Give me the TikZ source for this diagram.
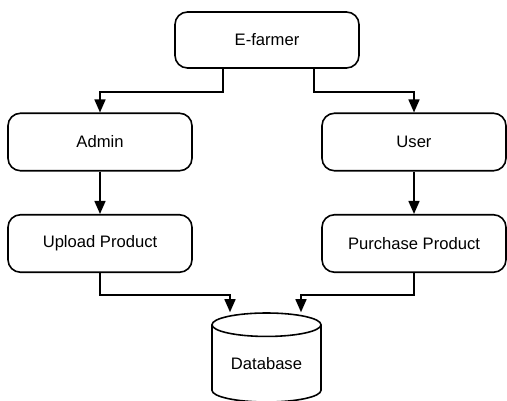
\documentclass[tikz,border=0pt]{standalone}
\usepackage{fontspec}
\setmainfont{Liberation Sans}
\usepackage{tikz}
\usetikzlibrary{shapes.geometric, arrows.meta, positioning, calc}

\begin{document}
\begin{tikzpicture}[
    block/.style={rectangle, draw, rounded corners=0.5cm, line width=1.8pt, minimum width=7.36cm, minimum height=2.3cm, text centered, font=\fontsize{18.9}{22}\selectfont},
    store/.style={cylinder, draw, shape border rotate=90, aspect=0.33, line width=1.8pt, inner sep=0pt, minimum width=4.36cm, minimum height=3.56cm, anchor=shape center, font=\fontsize{18.9}{22}\selectfont},
    arrow/.style={-{Triangle[length=5.2mm, width=4.4mm]}, line width=1.8pt}
]
\useasboundingbox (0,0) rectangle (20.28,16.04);
\node[block, minimum height=2.24cm] (efarmer) at (10.68, 14.44) {E-farmer};
\node[block] (admin) at (4.0, 10.36) {Admin};
\node[block] (upload) at (4.0, 6.3) {Upload Product};
\node[block] (user) at (16.56, 10.36) {User};
\node[block] (purchase) at (16.56, 6.3) {Purchase Product};
\node[store] (db) at (10.66, 1.74) {Database};
\draw[arrow] ([xshift=-1.76cm]efarmer.south) -- ++(0,-0.92) -| (admin.north);
\draw[arrow] ([xshift=1.88cm]efarmer.south) -- ++(0,-0.92) -| (user.north);
\draw[arrow] (admin) -- (upload);
\draw[arrow] (user) -- (purchase);
\draw[arrow] (upload.south) -- ++(0,-0.88) -| ([xshift=-1.46cm]db.north);
\draw[arrow] (purchase.south) -- ++(0,-0.88) -| ([xshift=1.38cm]db.north);
\end{tikzpicture}
\end{document}
